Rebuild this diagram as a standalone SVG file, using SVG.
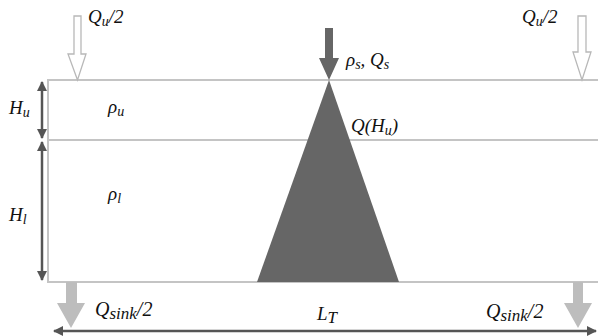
<svg xmlns="http://www.w3.org/2000/svg" width="598" height="336" viewBox="0 0 598 336">
<style>
.t{font-style:italic;font-size:19px;fill:#111}
.sub{font-size:14px}
.big{font-size:20px}
.bsub{font-size:17px}
.ln{stroke:#c4c4c4;stroke-width:2;fill:none}
.dim{stroke:#555;stroke-width:2.5;fill:none}
.hollow{fill:#fff;stroke:#b8b8b8;stroke-width:1.3}
.sink{fill:#bdbdbd;stroke:none}
</style>
<defs>
<marker id="ah" viewBox="0 0 10 10" refX="9" refY="5" markerWidth="4" markerHeight="4" orient="auto-start-reverse">
<path d="M0,0 L10,5 L0,10 z" fill="#555"/>
</marker>
</defs>
<g id="tank">
<path class="ln" d="M598,80 H48 V282 H598"/>
<line class="ln" x1="48" y1="140" x2="598" y2="140"/>
</g>
<g id="plume">
<polygon points="329,80 257,282 399,282" fill="#666"/>
</g>
<g id="connectors">
<line class="dim" x1="42" y1="82" x2="42" y2="138" marker-start="url(#ah)" marker-end="url(#ah)"/>
<line class="dim" x1="42" y1="142" x2="42" y2="280" marker-start="url(#ah)" marker-end="url(#ah)"/>
<line class="dim" x1="54" y1="331" x2="596" y2="331" marker-start="url(#ah)" marker-end="url(#ah)"/>
<polygon class="hollow" points="74,16 81,16 81,54 86,54 77.5,80 68,54 74,54"/>
<polygon class="hollow" points="578,16 586,16 586,52 591,52 582,80 573,52 578,52"/>
<polygon fill="#666" points="325,28 333,28 333,58 339,58 329,80 319,58 325,58"/>
<polygon class="sink" points="66,282 77,282 77,303 85,303 71,328 57,303 66,303"/>
<polygon class="sink" points="573,282 583,282 583,303 592,303 578,328 564,303 573,303"/>
</g>
<g id="labels" font-family="Liberation Serif, serif">
<text class="t" x="88" y="23">Q<tspan class="sub" dy="3">u</tspan><tspan dy="-3">/2</tspan></text>
<text class="t" x="522" y="23">Q<tspan class="sub" dy="3">u</tspan><tspan dy="-3">/2</tspan></text>
<text class="t" x="346" y="66">ρ<tspan class="sub" dy="3">s</tspan><tspan dy="-3">, Q</tspan><tspan class="sub" dy="3">s</tspan></text>
<text class="t" x="351" y="132">Q(H<tspan class="sub" dy="3">u</tspan><tspan dy="-3">)</tspan></text>
<text class="t" x="9" y="114">H<tspan class="sub" dy="3">u</tspan></text>
<text class="t" x="108" y="113">ρ<tspan class="sub" dy="3">u</tspan></text>
<text class="t" x="9" y="221">H<tspan class="sub" dy="3">l</tspan></text>
<text class="t" x="108" y="200">ρ<tspan class="sub" dy="3">l</tspan></text>
<text class="t big" x="95" y="316">Q<tspan class="bsub" dy="3">sink</tspan><tspan dy="-3">/2</tspan></text>
<text class="t big" x="486" y="318">Q<tspan class="bsub" dy="3">sink</tspan><tspan dy="-3">/2</tspan></text>
<text class="t" x="317" y="320">L<tspan class="bsub" dy="3">T</tspan></text>
</g>
</svg>
